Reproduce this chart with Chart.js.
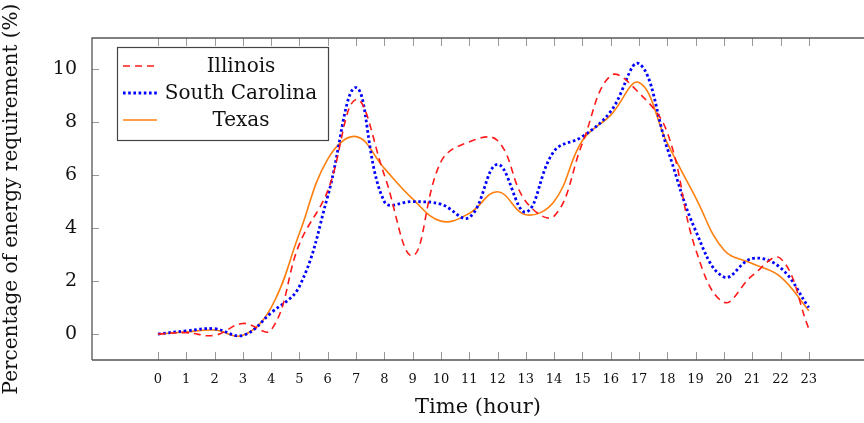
<!DOCTYPE html>
<html>
<head>
<meta charset="utf-8">
<script src="https://cdn.jsdelivr.net/npm/chart.js@4"></script>
<style>
  html, body { margin: 0; padding: 0; background: #fff; }
  #wrap { width: 864px; height: 423px; }
</style>
</head>
<body>
<div id="wrap"><canvas id="energy-chart" width="864" height="423"></canvas></div>
<script>
// data
const hours = [0, 1, 2, 3, 4, 5, 6, 7, 8, 9, 10, 11, 12, 13, 14, 15, 16, 17, 18, 19, 20, 21, 22, 23];
const illinois = [0, 0.05, -0.05, 0.4, 0.15, 3.4, 5.4, 8.85, 6.0, 2.95, 6.5, 7.25, 7.3, 5.0, 4.45, 7.2, 9.75, 9.1, 7.6, 3.2, 1.2, 2.2, 2.85, 0.2];
const southCarolina = [0, 0.12, 0.2, -0.05, 0.8, 1.8, 5.2, 9.3, 5.0, 5.0, 4.9, 4.4, 6.4, 4.6, 6.9, 7.45, 8.4, 10.2, 7.0, 3.9, 2.15, 2.85, 2.5, 1.0];
const texas = [0, 0.08, 0.15, -0.05, 1.0, 3.8, 6.6, 7.45, 6.25, 5.1, 4.26, 4.55, 5.37, 4.5, 5.0, 7.3, 8.26, 9.49, 7.2, 5.15, 3.17, 2.66, 2.16, 0.88];
const yTicks = [0, 2, 4, 6, 8, 10];

const serif = "'DejaVu Serif', serif";

function toPoints(values) {
    return hours.map((h, i) => ({ x: h, y: values[i] }));
}

// frame, inward ticks and the legend box
const framePlugin = {
    id: 'frame',
    afterDatasetsDraw(chart) {
        const ctx = chart.ctx;
        const area = chart.chartArea;
        const xs = chart.scales.x;
        const ys = chart.scales.y;
        ctx.save();
        ctx.strokeStyle = '#999';
        ctx.lineWidth = 1;
        ctx.beginPath();
        hours.forEach(h => {
            const px = Math.round(xs.getPixelForValue(h)) + 0.5;
            ctx.moveTo(px, area.bottom);
            ctx.lineTo(px, area.bottom - 8);
            ctx.moveTo(px, area.top);
            ctx.lineTo(px, area.top + 8);
        });
        yTicks.forEach(v => {
            const py = Math.round(ys.getPixelForValue(v)) + 0.5;
            ctx.moveTo(area.left, py);
            ctx.lineTo(area.left + 7, py);
        });
        ctx.stroke();

        ctx.strokeStyle = '#555';
        ctx.lineWidth = 1.3;
        ctx.beginPath();
        ctx.moveTo(area.left, area.bottom);
        ctx.lineTo(area.left, area.top);
        ctx.lineTo(chart.width, area.top);
        ctx.moveTo(area.left, area.bottom);
        ctx.lineTo(chart.width, area.bottom);
        ctx.stroke();

        // legend
        const lx = 117, ly = 47, lw = 211, lh = 93;
        ctx.fillStyle = '#fff';
        ctx.fillRect(lx, ly, lw, lh);
        ctx.strokeStyle = '#444';
        ctx.lineWidth = 1.2;
        ctx.strokeRect(lx + 0.5, ly + 0.5, lw, lh);
        ctx.font = '20px ' + serif;
        ctx.textBaseline = 'middle';
        ctx.textAlign = 'center';
        chart.data.datasets.forEach((ds, i) => {
            const rowY = ly + 19 + i * 27;
            ctx.strokeStyle = ds.borderColor;
            ctx.lineWidth = ds.borderWidth;
            ctx.setLineDash(ds.borderDash || []);
            ctx.beginPath();
            ctx.moveTo(lx + 6, rowY);
            ctx.lineTo(lx + 40, rowY);
            ctx.stroke();
            ctx.setLineDash([]);
            ctx.fillStyle = '#111';
            ctx.fillText(ds.label, lx + 124, rowY + 1);
        });
        ctx.restore();
    }
};

new Chart(document.querySelector('#energy-chart').getContext('2d'), {
    type: 'line',
    data: {
        datasets: [
            {
                label: 'Illinois',
                data: toPoints(illinois),
                borderColor: '#ff1a1a',
                borderWidth: 1.6,
                borderDash: [7, 5],
                tension: 0.4,
                pointRadius: 0
            },
            {
                label: 'South Carolina',
                data: toPoints(southCarolina),
                borderColor: '#0000ff',
                borderWidth: 2.8,
                borderDash: [2.6, 2.6],
                tension: 0.4,
                pointRadius: 0
            },
            {
                label: 'Texas',
                data: toPoints(texas),
                borderColor: '#ff7f0e',
                borderWidth: 1.6,
                tension: 0.4,
                pointRadius: 0
            }
        ]
    },
    options: {
        responsive: false,
        animation: false,
        layout: { padding: { top: 38, right: 0, left: 0, bottom: 0 } },
        plugins: {
            legend: { display: false },
            tooltip: { enabled: false }
        },
        scales: {
            x: {
                type: 'linear',
                min: -2.33,
                max: 24.95,
                afterBuildTicks: scale => { scale.ticks = hours.map(h => ({ value: h })); },
                afterFit: scale => { scale.height = 63; },
                grid: { display: false },
                border: { display: false },
                ticks: {
                    color: '#111',
                    padding: 4,
                    maxRotation: 0,
                    autoSkip: false,
                    font: { family: serif, size: 13 }
                },
                title: {
                    display: true,
                    text: 'Time (hour)',
                    color: '#111',
                    font: { family: serif, size: 21 },
                    padding: { top: 0, bottom: 3 }
                }
            },
            y: {
                min: -0.98,
                max: 11.17,
                afterBuildTicks: scale => { scale.ticks = yTicks.map(v => ({ value: v })); },
                afterFit: scale => { scale.width = 92; },
                grid: { display: false },
                border: { display: false },
                ticks: {
                    color: '#111',
                    padding: 7,
                    font: { family: serif, size: 19 }
                },
                title: {
                    display: true,
                    text: 'Percentage of energy requirement (%)',
                    color: '#111',
                    font: { family: serif, size: 20 },
                    padding: { top: 0, bottom: 0 }
                }
            }
        }
    },
    plugins: [framePlugin]
});
</script>
</body>
</html>
